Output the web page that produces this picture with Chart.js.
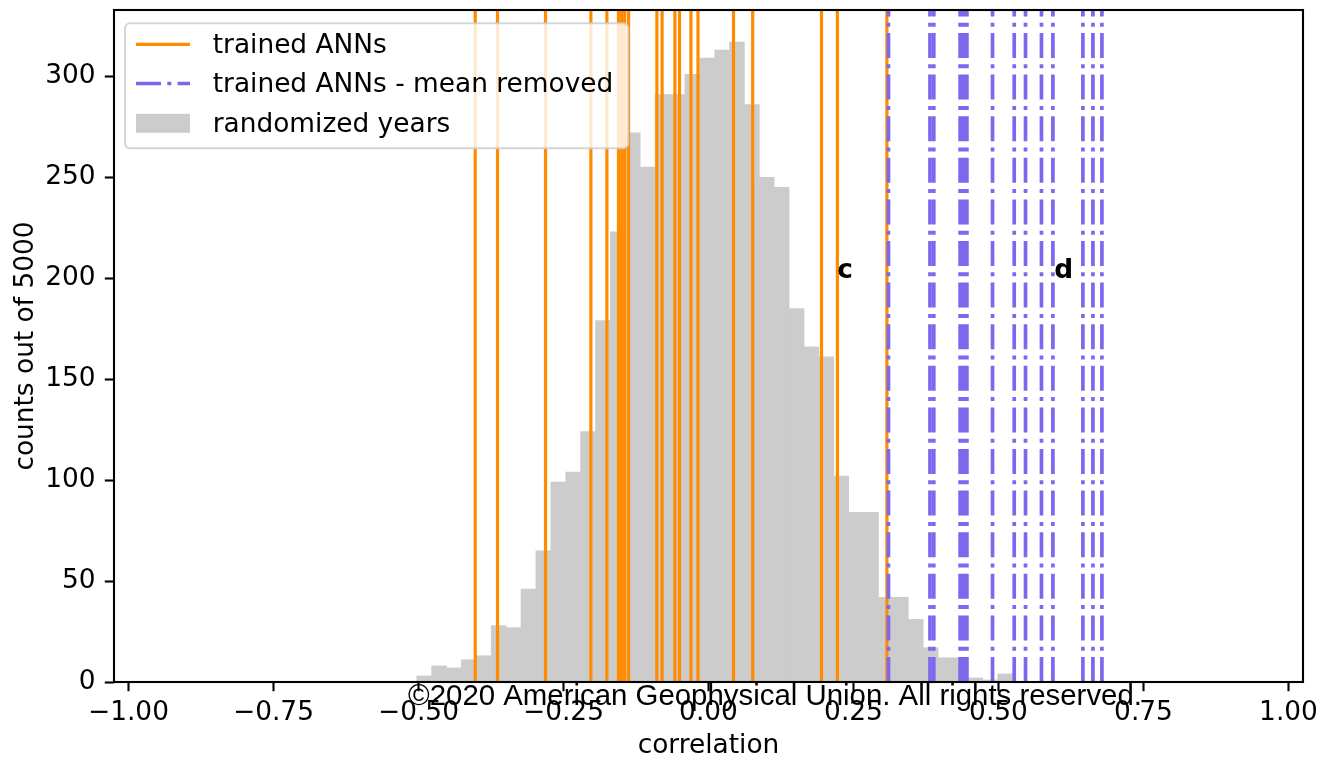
<!DOCTYPE html>
<html>
<head>
<meta charset="utf-8">
<script src="https://cdn.jsdelivr.net/npm/chart.js@4.4.1/dist/chart.umd.min.js"></script>
<style>
  html, body { margin: 0; padding: 0; background: #ffffff; }
  #wrap { width: 1321px; height: 762px; position: relative; }
</style>
</head>
<body>
<div id="wrap"><canvas id="chart" width="1321" height="762"></canvas></div>
<script>
// Histogram of correlations for randomized years: 40 equal bins
const binStart = -0.503;
const binWidth = 0.02568;
const randomizedCounts = [3, 8, 7, 11, 13, 28, 27, 46, 65, 99,
                          104, 124, 179, 223, 272, 255, 291, 291, 301, 309,
                          313, 317, 286, 250, 245, 185, 166, 161, 102, 84,
                          84, 42, 42, 31, 17, 12, 12, 2, 1, 4];

// Correlations of the individual trained networks
const trainedCorr = [-0.4022, -0.3638, -0.2810, -0.2028, -0.1752, -0.1552, -0.1497, -0.1445,
                     -0.1378, -0.0890, -0.0800, -0.0579, -0.0500, -0.0303, -0.0181, 0.0431,
                     0.0762, 0.1948, 0.2222, 0.3076];
const meanRemovedCorr = [0.3103, 0.3819, 0.3884, 0.4338, 0.4397, 0.4455, 0.4897, 0.5271,
                         0.5466, 0.5741, 0.5938, 0.6455, 0.6628, 0.6783];

const xTicks = [-1.0, -0.75, -0.5, -0.25, 0.0, 0.25, 0.5, 0.75, 1.0];
const yTicks = [0, 50, 100, 150, 200, 250, 300];
const xRange = [-1.025, 1.025];
const yRange = [0, 332.85];

const legendLabels = ['trained ANNs', 'trained ANNs - mean removed', 'randomized years'];
const panelLabels = [{ text: 'c', x: 0.222, y: 200 }, { text: 'd', x: 0.596, y: 200 }];
const creditText = '\u00A92020 American Geophysical Union. All rights reserved.';

const ORANGE = '#ff8c00';
const PURPLE = '#7b68ee';
const GREY = '#cccccc';
const FONT = "'DejaVu Sans', sans-serif";
const FS = 26.4;
const DASHDOT = [25, 6.3, 4, 6.3];

const histData = randomizedCounts.map((c, i) => ({ x: binStart + (i + 0.5) * binWidth, y: c }));

function vline(x, color, width, dash, order) {
  return {
    type: 'line',
    data: [{ x: x, y: yRange[0] }, { x: x, y: yRange[1] }],
    borderColor: color,
    borderWidth: width,
    borderDash: dash,
    borderCapStyle: 'butt',
    pointRadius: 0,
    pointHoverRadius: 0,
    fill: false,
    tension: 0,
    clip: 0,
    order: order
  };
}

const datasets = [
  {
    type: 'bar',
    label: legendLabels[2],
    data: histData,
    backgroundColor: GREY,
    borderWidth: 0,
    barPercentage: 1.0,
    categoryPercentage: 1.0,
    order: 100
  },
  ...trainedCorr.map(v => vline(v, ORANGE, 3.2, [], 50)),
  ...meanRemovedCorr.map(v => vline(v, PURPLE, 3.7, DASHDOT, 10))
];

// four spines drawn over the data
const framePlugin = {
  id: 'frame',
  afterDatasetsDraw(chart) {
    const { ctx, chartArea: a } = chart;
    ctx.save();
    ctx.strokeStyle = '#000000';
    ctx.lineWidth = 2.1;
    ctx.lineJoin = 'miter';
    ctx.strokeRect(a.left, a.top, a.right - a.left, a.bottom - a.top);
    ctx.restore();
  }
};

// boxed legend in the upper-left corner of the axes
const legendPlugin = {
  id: 'boxLegend',
  afterDatasetsDraw(chart) {
    const { ctx, chartArea: a } = chart;
    const x0 = a.left + 11, y0 = a.top + 13.3, w = 503.3, h = 125;
    ctx.save();
    ctx.beginPath();
    ctx.roundRect(x0, y0, w, h, 5);
    ctx.fillStyle = 'rgba(255,255,255,0.8)';
    ctx.fill();
    ctx.strokeStyle = 'rgba(204,204,204,0.8)';
    ctx.lineWidth = 2;
    ctx.stroke();

    const hx0 = a.left + 22, hx1 = a.left + 76;
    const rows = [a.top + 34.3, a.top + 73.5, a.top + 113.3];
    // orange solid handle
    ctx.beginPath();
    ctx.strokeStyle = ORANGE; ctx.lineWidth = 3.2; ctx.lineCap = 'butt'; ctx.setLineDash([]);
    ctx.moveTo(hx0, rows[0]); ctx.lineTo(hx1, rows[0]); ctx.stroke();
    // purple dash-dot handle
    ctx.beginPath();
    ctx.strokeStyle = PURPLE; ctx.lineWidth = 3.7; ctx.setLineDash(DASHDOT);
    ctx.moveTo(hx0, rows[1]); ctx.lineTo(hx1, rows[1]); ctx.stroke();
    ctx.setLineDash([]);
    // grey patch
    ctx.fillStyle = GREY;
    ctx.fillRect(hx0, rows[2] - 9.5, hx1 - hx0, 19);

    ctx.fillStyle = '#000000';
    ctx.font = FS + 'px ' + FONT;
    ctx.textAlign = 'left';
    ctx.textBaseline = 'middle';
    legendLabels.forEach((t, i) => ctx.fillText(t, a.left + 98.7, rows[i] + 2));
    ctx.restore();
  }
};

// panel letters placed in data coordinates
const letterPlugin = {
  id: 'panelLetters',
  afterDatasetsDraw(chart) {
    const { ctx } = chart;
    const xs = chart.scales.x, ys = chart.scales.y;
    ctx.save();
    ctx.fillStyle = '#000000';
    ctx.font = 'bold ' + FS + 'px ' + FONT;
    ctx.textAlign = 'left';
    ctx.textBaseline = 'alphabetic';
    panelLabels.forEach(p => ctx.fillText(p.text, xs.getPixelForValue(p.x), ys.getPixelForValue(p.y)));
    ctx.restore();
  }
};

// copyright line across the bottom axis
const creditPlugin = {
  id: 'credit',
  afterDraw(chart) {
    const { ctx } = chart;
    ctx.save();
    ctx.fillStyle = '#000000';
    ctx.font = "29.4px 'Liberation Sans', Arial, sans-serif";
    ctx.textAlign = 'center';
    ctx.textBaseline = 'alphabetic';
    ctx.fillText(creditText, 775, 705);
    ctx.restore();
  }
};

function fmtTick(v) {
  const s = Math.abs(v).toFixed(2);
  return (v < 0 ? '\u2212' : '') + s;
}

function noPad(s) {
  s.paddingTop = 0; s.paddingBottom = 0; s.paddingLeft = 0; s.paddingRight = 0;
}

new Chart(document.getElementById('chart'), {
  type: 'bar',
  data: { datasets: datasets },
  options: {
    responsive: false,
    animation: false,
    devicePixelRatio: 1,
    events: [],
    layout: { padding: { top: 10, right: 18, left: 0, bottom: 0 } },
    plugins: { legend: { display: false }, tooltip: { enabled: false } },
    scales: {
      x: {
        type: 'linear',
        min: xRange[0],
        max: xRange[1],
        offset: false,
        afterBuildTicks: s => { s.ticks = xTicks.map(v => ({ value: v })); },
        afterFit: s => { s.height = 80; noPad(s); },
        ticks: {
          autoSkip: false, maxRotation: 0, minRotation: 0,
          padding: 6,
          color: '#000000',
          font: { family: FONT, size: FS },
          callback: v => fmtTick(v)
        },
        grid: {
          display: true, drawOnChartArea: false, drawTicks: true,
          tickLength: 9.2, tickWidth: 2.1, tickColor: '#000000', offset: false
        },
        border: { display: false },
        title: {
          display: true, text: 'correlation', color: '#000000',
          font: { family: FONT, size: FS }, padding: { top: 0, bottom: 0 }
        }
      },
      y: {
        type: 'linear',
        min: yRange[0],
        max: yRange[1],
        afterBuildTicks: s => { s.ticks = yTicks.map(v => ({ value: v })); },
        afterFit: s => { s.width = 114; noPad(s); },
        ticks: {
          padding: 9.2,
          color: '#000000',
          font: { family: FONT, size: FS },
          callback: v => String(v)
        },
        grid: {
          display: true, drawOnChartArea: false, drawTicks: true,
          tickLength: 9.2, tickWidth: 2.1, tickColor: '#000000'
        },
        border: { display: false },
        title: {
          display: true, text: 'counts out of 5000', color: '#000000',
          font: { family: FONT, size: FS }, padding: { top: 10, bottom: 0 }
        }
      }
    }
  },
  plugins: [framePlugin, legendPlugin, letterPlugin, creditPlugin]
});
</script>
</body>
</html>
